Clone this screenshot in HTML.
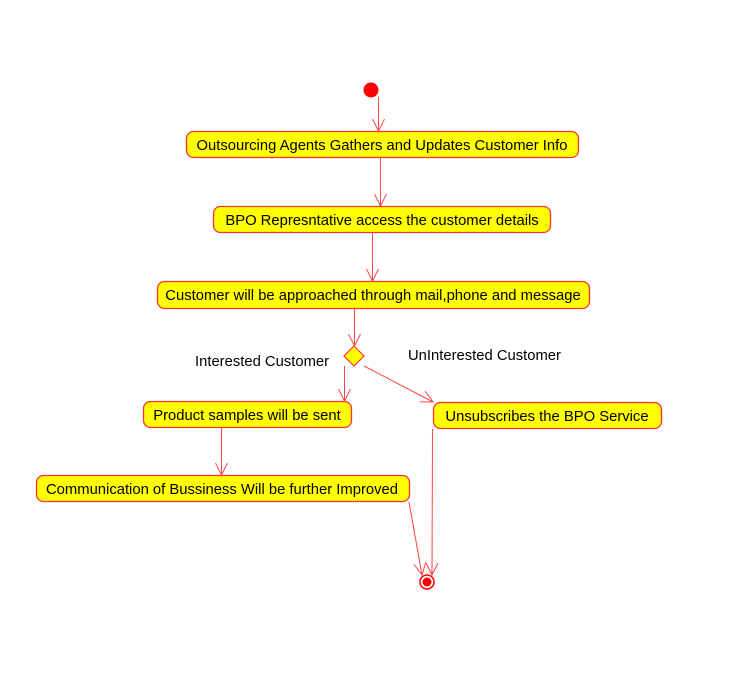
<!DOCTYPE html>
<html><head><meta charset="utf-8"><style>
html,body{margin:0;padding:0;background:#fff;width:741px;height:686px;overflow:hidden}
text{font-family:"Liberation Sans",Arial,sans-serif;font-size:14.8px;fill:#000}
</style></head><body>
<svg width="741" height="686" viewBox="0 0 741 686" xmlns="http://www.w3.org/2000/svg">
<defs>
<marker id="a" markerWidth="14" markerHeight="14" refX="12" refY="7" orient="auto" markerUnits="userSpaceOnUse">
<path d="M0,1 L12,7 L0,13" fill="none" stroke="#f44" stroke-width="1"/>
</marker>
</defs>
<g fill="#ff0" stroke="#f33" stroke-width="1.3">
<rect x="186.5" y="131.5" width="392" height="26" rx="7"/>
<rect x="213.5" y="206.5" width="337" height="26" rx="7"/>
<rect x="157.5" y="281.5" width="432" height="27" rx="7"/>
<rect x="143.5" y="401.5" width="208" height="26" rx="7"/>
<rect x="433.5" y="402.5" width="228" height="26" rx="7"/>
<rect x="36.5" y="475.5" width="373" height="26" rx="7"/>
</g>
<circle cx="371" cy="90" r="7.5" fill="#f00"/>
<polygon points="354,346 364,356 354,366 344,356" fill="#ff0" stroke="#f33" stroke-width="1.2"/>
<circle cx="427" cy="582" r="7" fill="#fff" stroke="#f00" stroke-width="1.5"/>
<circle cx="427" cy="582" r="4.5" fill="#f00"/>
<g stroke="#f44" stroke-width="1" fill="none" marker-end="url(#a)">
<line x1="378.5" y1="97" x2="378.5" y2="131"/>
<line x1="380.5" y1="158" x2="380.5" y2="206"/>
<line x1="372.5" y1="233" x2="372.5" y2="281"/>
<line x1="354.5" y1="309" x2="354.5" y2="346"/>
<line x1="344.5" y1="366" x2="344.5" y2="401"/>
<line x1="364" y1="366" x2="433" y2="402"/>
<line x1="221.5" y1="428" x2="221.5" y2="475"/>
<line x1="409" y1="502" x2="422" y2="575"/>
<line x1="432.5" y1="429" x2="432" y2="575"/>
</g>
<text x="382" y="150" text-anchor="middle">Outsourcing Agents Gathers and Updates Customer Info</text>
<text x="382" y="225" text-anchor="middle">BPO Represntative access the customer details</text>
<text x="373" y="300" text-anchor="middle">Customer will be approached through mail,phone and message</text>
<text x="247" y="420" text-anchor="middle">Product samples will be sent</text>
<text x="547" y="421" text-anchor="middle">Unsubscribes the BPO Service</text>
<text x="222" y="494" text-anchor="middle">Communication of Bussiness Will be further Improved</text>
<text x="195" y="366">Interested Customer</text>
<text x="408" y="360">UnInterested Customer</text>
</svg>
</body></html>
